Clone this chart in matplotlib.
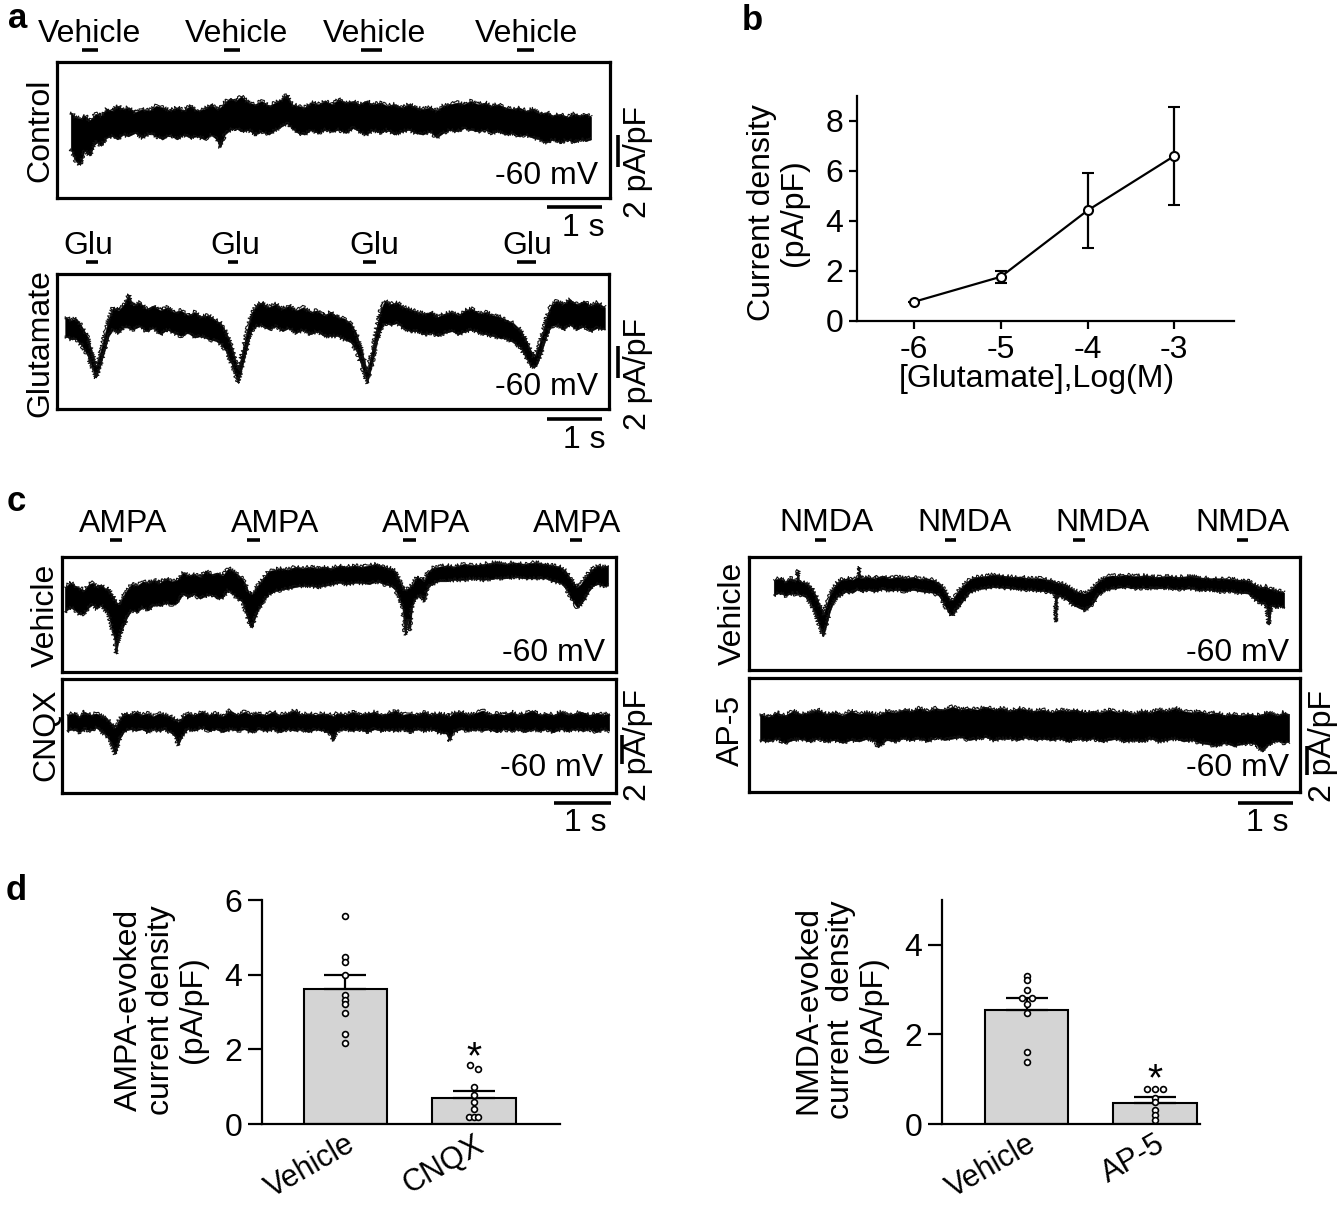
import matplotlib
matplotlib.use("Agg")
import matplotlib.pyplot as plt

plt.rcParams['font.family'] = ['Liberation Sans', 'DejaVu Sans']
plt.rcParams['axes.unicode_minus'] = False

# ======================= DATA =======================
# ---- panel a : control (vehicle puffs) trace envelope, t in s, current in pA/pF (relative)
ctrl_t = [0.25, 0.33, 0.42, 0.5, 0.6, 0.7, 0.8, 0.9, 1.0, 1.1, 1.2, 1.3, 1.42, 1.55, 1.68, 1.8, 1.92,
          2.05, 2.18, 2.3, 2.42, 2.55, 2.68, 2.8, 2.9, 2.97, 3.05, 3.15, 3.25, 3.35, 3.48, 3.6, 3.72,
          3.85, 3.97, 4.08, 4.18, 4.27, 4.38, 4.5, 4.62, 4.75, 4.88, 5.0, 5.12, 5.25, 5.38, 5.5, 5.62,
          5.75, 5.88, 6.0, 6.13, 6.27, 6.4, 6.52, 6.65, 6.78, 6.9, 7.02, 7.15, 7.28, 7.4, 7.52, 7.65,
          7.78, 7.9, 8.02, 8.15, 8.28, 8.4, 8.52, 8.65, 8.78, 8.9, 9.02, 9.15, 9.28, 9.4, 9.52, 9.62, 9.71]
ctrl_hi = [0.8, 0.5, 0.4, 0.6, 0.3, 0.7, 0.6, 1.0, 0.9, 1.2, 1.0, 1.1, 0.8, 1.0, 0.9, 1.2, 1.1,
           0.9, 1.1, 0.9, 1.2, 0.9, 1.0, 1.3, 1.0, 1.1, 1.4, 1.7, 1.5, 1.8, 1.4, 1.3, 1.5,
           1.2, 1.4, 1.6, 1.9, 1.3, 1.2, 1.1, 1.4, 1.3, 1.5, 1.3, 1.6, 1.4, 1.5, 1.3, 1.5,
           1.3, 1.4, 1.2, 1.3, 1.1, 1.3, 1.1, 1.0, 1.1, 0.9, 1.2, 1.3, 1.4, 1.3, 1.5, 1.3,
           1.4, 1.2, 1.3, 1.1, 1.0, 1.1, 0.9, 1.0, 0.7, 0.8, 0.6, 0.7, 0.5, 0.7, 0.6, 0.7, 0.5]
ctrl_lo = [-1.5, -2.2, -2.5, -1.6, -1.9, -1.0, -1.3, -0.8, -0.7, -0.9, -0.6, -0.7, -0.5, -0.8, -0.5, -0.7, -0.9,
           -0.6, -0.9, -0.6, -0.8, -0.7, -0.9, -0.6, -0.9, -1.4, -0.6, -0.3, -0.2, -0.4, -0.3, -0.6, -0.4,
           -0.6, -0.3, -0.1, 0.1, -0.2, -0.5, -0.6, -0.3, -0.5, -0.3, -0.4, -0.3, -0.5, -0.2, -0.4, -0.6,
           -0.3, -0.5, -0.3, -0.6, -0.4, -0.3, -0.5, -0.6, -0.4, -0.8, -0.5, -0.3, -0.4, -0.2, -0.3, -0.4,
           -0.3, -0.5, -0.4, -0.6, -0.5, -0.7, -0.6, -0.8, -0.9, -1.1, -0.9, -1.1, -0.9, -1.1, -0.9, -1.0, -0.9]
ctrl_on = [0.45, 3.04, 5.53, 8.36]
ctrl_off = [0.75, 3.33, 5.90, 8.67]

# ---- panel a : glutamate puffs trace envelope
glu_t = [0.15, 0.25, 0.35, 0.45, 0.55, 0.63, 0.71, 0.78, 0.86, 0.94, 1.02, 1.12, 1.22, 1.3, 1.38, 1.5,
         1.62, 1.75, 1.88, 2.0, 2.12, 2.25, 2.38, 2.5, 2.62, 2.75, 2.88, 2.98, 3.08, 3.18, 3.29, 3.37,
         3.45, 3.53, 3.62, 3.72, 3.85, 3.98, 4.1, 4.22, 4.35, 4.48, 4.6, 4.72, 4.85, 4.98, 5.1, 5.22,
         5.34, 5.44, 5.54, 5.64, 5.72, 5.8, 5.88, 5.96, 6.06, 6.18, 6.3, 6.42, 6.55, 6.68, 6.8, 6.92,
         7.05, 7.18, 7.3, 7.42, 7.55, 7.68, 7.8, 7.92, 8.05, 8.18, 8.3, 8.42, 8.52, 8.6, 8.67, 8.74,
         8.82, 8.9, 8.98, 9.08, 9.2, 9.32, 9.45, 9.58, 9.7, 9.82, 9.96]
glu_hi = [0.2, 0.0, 0.1, -0.4, -1.0, -1.9, -2.9, -2.1, -1.0, 0.1, 0.8, 0.6, 1.0, 1.6, 0.9, 1.1,
          0.7, 0.9, 0.6, 0.8, 0.5, 0.6, 0.3, 0.5, 0.2, 0.3, 0.0, -0.2, -0.8, -1.7, -3.1, -2.0,
          -0.7, 0.4, 0.9, 1.1, 0.8, 1.0, 0.7, 0.9, 0.6, 0.8, 0.5, 0.6, 0.3, 0.5, 0.2, 0.1,
          -0.2, -0.8, -1.9, -3.2, -2.0, -0.6, 0.6, 1.2, 1.0, 1.1, 0.8, 0.7, 0.5, 0.4, 0.5, 0.2,
          0.4, 0.5, 0.3, 0.6, 0.7, 0.4, 0.5, 0.3, 0.2, 0.0, -0.2, -0.6, -1.2, -1.8, -2.3, -1.8,
          -0.9, 0.2, 0.9, 1.2, 1.0, 1.3, 1.0, 1.2, 0.9, 1.1, 0.8]
glu_lo = [-1.0, -1.2, -1.2, -1.6, -2.2, -2.9, -3.6, -2.9, -2.0, -1.0, -0.6, -0.8, -0.4, -0.5, -0.6, -0.4,
          -0.7, -0.5, -0.9, -0.6, -0.8, -1.0, -0.8, -1.1, -1.0, -1.2, -1.3, -1.5, -2.0, -2.8, -3.95, -2.9,
          -1.8, -0.7, -0.4, -0.3, -0.6, -0.4, -0.7, -0.5, -0.8, -0.6, -0.9, -0.7, -1.0, -1.0, -1.0, -1.2,
          -1.4, -1.9, -2.9, -3.95, -2.9, -1.6, -0.6, -0.2, -0.3, -0.2, -0.5, -0.7, -0.7, -0.9, -0.8, -1.0,
          -0.8, -0.7, -0.9, -0.7, -0.6, -0.8, -0.9, -1.0, -1.1, -1.2, -1.4, -1.7, -2.3, -2.8, -3.0, -2.7,
          -1.9, -1.0, -0.4, -0.3, -0.6, -0.3, -0.6, -0.4, -0.7, -0.5, -0.6]
glu_on = [0.53, 3.11, 5.56, 8.36]
glu_off = [0.75, 3.29, 5.80, 8.71]

# ---- panel b : concentration-response
glu_log = [-6, -5, -4, -3]
glu_dens = [0.77, 1.77, 4.42, 6.60]
glu_sem = [0.0, 0.24, 1.50, 1.96]

# ---- panel c : AMPA puffs, vehicle
ampa_t = [0.05, 0.15, 0.23, 0.32, 0.39, 0.47, 0.54, 0.61, 0.68, 0.75, 0.81, 0.87, 0.92, 0.95, 0.99, 1.04,
          1.09, 1.14, 1.22, 1.32, 1.42, 1.51, 1.62, 1.72, 1.82, 1.92, 2.02, 2.12, 2.22, 2.32, 2.42, 2.52,
          2.62, 2.72, 2.82, 2.92, 3.0, 3.08, 3.16, 3.22, 3.28, 3.33, 3.38, 3.45, 3.53, 3.62, 3.72, 3.84,
          3.96, 4.09, 4.22, 4.35, 4.48, 4.61, 4.74, 4.87, 5.0, 5.13, 5.26, 5.39, 5.52, 5.65, 5.76, 5.85,
          5.92, 5.97, 6.02, 6.06, 6.1, 6.15, 6.22, 6.29, 6.35, 6.41, 6.48, 6.6, 6.74, 6.88, 7.05, 7.22,
          7.4, 7.58, 7.76, 7.94, 8.12, 8.3, 8.48, 8.62, 8.74, 8.84, 8.92, 8.98, 9.04, 9.1, 9.17, 9.24,
          9.32, 9.4, 9.48, 9.58]
ampa_hi = [0.2, 0.5, 0.3, 0.1, 0.0, 0.4, 0.5, 0.2, 0.4, 0.1, 0.1, -0.3, -0.6, -0.8, -1.0, -0.7,
           -0.3, 0.0, 0.4, 0.3, 0.6, 0.5, 0.7, 0.5, 0.8, 0.6, 0.7, 1.2, 1.0, 1.1, 0.9, 1.3,
           1.1, 1.2, 1.0, 1.5, 1.3, 1.1, 0.8, 0.4, -0.2, -0.3, 0.0, 0.4, 0.8, 1.3, 1.4, 1.5,
           1.4, 1.6, 1.5, 1.6, 1.5, 1.6, 1.5, 1.7, 1.6, 1.7, 1.6, 1.7, 1.8, 1.6, 1.5, 1.3,
           0.7, 0.2, 0.0, 0.1, 0.2, 0.4, 0.9, 0.8, 0.6, 1.2, 1.5, 1.6, 1.7, 1.6, 1.8, 1.7,
           1.8, 1.9, 1.8, 1.9, 1.8, 1.9, 1.8, 1.7, 1.6, 1.3, 0.8, 0.5, 0.2, 0.4, 0.8, 1.2,
           1.5, 1.7, 1.6, 1.7]
ampa_lo = [-1.5, -1.2, -1.4, -1.7, -1.6, -1.2, -1.0, -1.3, -1.0, -1.4, -1.6, -2.6, -3.4, -4.4, -3.5, -2.8,
           -2.4, -1.9, -1.4, -1.5, -1.2, -1.4, -1.0, -1.1, -0.9, -1.0, -0.9, -0.3, -0.5, -0.3, -0.6, -0.4,
           -0.3, -0.6, -0.5, 0.0, -0.3, -0.6, -0.8, -1.5, -2.3, -2.6, -2.0, -1.3, -0.8, -0.3, -0.1, 0.0,
           0.1, 0.2, 0.3, 0.3, 0.2, 0.3, 0.4, 0.5, 0.4, 0.5, 0.5, 0.4, 0.6, 0.4, 0.3, 0.0,
           -0.6, -1.2, -3.1, -2.0, -2.8, -0.9, -0.5, -0.4, -0.8, 0.1, 0.4, 0.6, 0.6, 0.7, 0.7, 0.8,
           0.7, 0.8, 0.8, 0.9, 0.8, 0.8, 0.8, 0.6, 0.5, 0.1, -0.5, -0.9, -1.2, -1.0, -0.6, -0.1,
           0.3, 0.4, 0.3, 0.3]
ampa_on = [0.84, 3.25, 5.98, 8.91]
ampa_off = [1.05, 3.47, 6.21, 9.12]

# ---- panel c : AMPA puffs with CNQX
cnqx_t = [0.09, 0.2, 0.3, 0.4, 0.5, 0.6, 0.7, 0.78, 0.84, 0.89, 0.93, 0.97, 1.02, 1.1, 1.2, 1.3,
          1.4, 1.5, 1.6, 1.7, 1.8, 1.9, 1.98, 2.04, 2.1, 2.2, 2.32, 2.45, 2.58, 2.7, 2.82, 2.95,
          3.08, 3.2, 3.32, 3.45, 3.58, 3.7, 3.82, 3.95, 4.08, 4.2, 4.32, 4.45, 4.58, 4.7, 4.76, 4.82,
          4.98, 5.1, 5.22, 5.35, 5.48, 5.6, 5.72, 5.85, 5.98, 6.1, 6.22, 6.35, 6.48, 6.6, 6.74, 6.8,
          6.86, 7.0, 7.12, 7.25, 7.38, 7.5, 7.62, 7.75, 7.88, 8.0, 8.12, 8.25, 8.38, 8.5, 8.62, 8.75,
          8.88, 9.0, 9.12, 9.25, 9.38, 9.5, 9.6]
cnqx_hi = [0.5, 0.6, 0.4, 0.7, 0.5, 0.6, 0.4, 0.3, 0.0, -0.2, -0.4, -0.1, 0.3, 0.6, 0.5, 0.7,
           0.5, 0.6, 0.4, 0.6, 0.5, 0.4, 0.2, 0.0, 0.3, 0.6, 0.5, 0.7, 0.5, 0.6, 0.4, 0.8,
           0.5, 0.7, 0.5, 0.6, 0.5, 0.7, 0.5, 0.6, 0.8, 0.5, 0.6, 0.5, 0.6, 0.5, 0.4, 0.6,
           0.5, 0.7, 0.5, 0.6, 0.7, 0.5, 0.6, 0.8, 0.5, 0.6, 0.5, 0.7, 0.5, 0.6, 0.5, 0.4,
           0.6, 0.7, 0.5, 0.6, 0.8, 0.5, 0.6, 0.5, 0.7, 0.5, 0.6, 0.8, 0.5, 0.6, 0.5, 0.7,
           0.5, 0.6, 0.7, 0.5, 0.6, 0.5, 0.6]
cnqx_lo = [-0.6, -0.5, -0.7, -0.5, -0.6, -0.4, -0.7, -0.9, -1.3, -1.8, -2.2, -1.7, -1.1, -0.6, -0.5, -0.6,
           -0.5, -0.7, -0.5, -0.6, -0.5, -0.7, -1.0, -1.6, -1.0, -0.5, -0.6, -0.4, -0.6, -0.5, -0.7, -0.5,
           -0.6, -0.5, -0.7, -0.5, -0.6, -0.5, -0.7, -0.5, -0.6, -0.5, -0.7, -0.5, -0.6, -0.8, -1.3, -0.6,
           -0.5, -0.6, -0.5, -0.7, -0.5, -0.6, -0.5, -0.6, -0.5, -0.7, -0.5, -0.6, -0.5, -0.7, -0.8, -1.3,
           -0.7, -0.5, -0.6, -0.5, -0.6, -0.5, -0.7, -0.5, -0.6, -0.5, -0.7, -0.5, -0.6, -0.5, -0.7, -0.5,
           -0.6, -0.5, -0.6, -0.5, -0.7, -0.5, -0.6]

# ---- panel c : NMDA puffs, vehicle
nmda_t = [0.45, 0.56, 0.66, 0.76, 0.86, 0.89, 0.91, 1.03, 1.1, 1.16, 1.22, 1.28, 1.35, 1.41, 1.47, 1.53,
          1.6, 1.68, 1.78, 1.88, 1.98, 2.0, 2.02, 2.15, 2.28, 2.42, 2.55, 2.7, 2.84, 2.98, 3.11, 3.24,
          3.36, 3.45, 3.52, 3.58, 3.64, 3.7, 3.76, 3.84, 3.92, 4.02, 4.15, 4.29, 4.44, 4.6, 4.76, 4.93,
          5.1, 5.29, 5.45, 5.56, 5.58, 5.6, 5.7, 5.8, 5.9, 6.0, 6.1, 6.18, 6.26, 6.36, 6.48, 6.6,
          6.72, 6.84, 7.0, 7.2, 7.4, 7.6, 7.8, 8.02, 8.2, 8.38, 8.56, 8.75, 8.92, 9.07, 9.18, 9.29,
          9.4, 9.45, 9.5, 9.58, 9.66, 9.73]
nmda_hi = [0.5, 0.6, 0.4, 0.6, 0.45, 1.2, 0.4, 0.3, 0.1, -0.2, -0.6, -1.2, -1.9, -1.2, -0.5, -0.1,
           0.3, 0.5, 0.6, 0.5, 0.7, 1.4, 0.6, 0.7, 0.6, 0.8, 0.6, 0.7, 0.6, 0.7, 0.55, 0.6,
           0.45, 0.3, 0.0, -0.35, -0.8, -0.9, -0.5, -0.1, 0.2, 0.55, 0.7, 0.75, 0.85, 0.8, 0.7, 0.7,
           0.6, 0.6, 0.5, 0.4, 0.35, 0.3, 0.25, 0.05, -0.2, -0.35, -0.45, -0.3, 0.0, 0.4, 0.7, 0.8,
           0.75, 0.85, 0.75, 0.8, 0.7, 0.75, 0.7, 0.75, 0.65, 0.6, 0.6, 0.55, 0.5, 0.45, 0.2, 0.0,
           0.05, -0.1, -0.15, -0.2, -0.3, -0.4]
nmda_lo = [-0.55, -0.4, -0.6, -0.45, -0.5, -0.4, -0.5, -0.7, -1.0, -1.45, -2.0, -2.7, -3.4, -2.6, -1.7, -1.1,
           -0.7, -0.5, -0.3, -0.4, -0.15, -0.2, -0.3, -0.2, -0.3, -0.15, -0.25, -0.2, -0.3, -0.2, -0.3, -0.35,
           -0.4, -0.6, -1.0, -1.45, -1.85, -1.95, -1.6, -1.2, -0.8, -0.35, -0.15, -0.1, 0.0, -0.05, -0.1, -0.15,
           -0.2, -0.25, -0.35, -0.5, -2.4, -0.6, -0.7, -0.95, -1.25, -1.45, -1.6, -1.4, -1.1, -0.5, -0.2, -0.1,
           -0.05, 0.0, -0.1, -0.05, -0.1, -0.05, -0.15, -0.1, -0.2, -0.2, -0.3, -0.3, -0.4, -0.45, -0.8, -1.1,
           -1.2, -2.6, -1.3, -1.4, -1.3, -1.45]
nmda_on = [1.20, 3.56, 5.89, 8.87]
nmda_off = [1.40, 3.76, 6.11, 9.07]

# ---- panel c : NMDA puffs with AP-5
ap5_t = [0.2, 0.35, 0.5, 0.65, 0.8, 0.95, 1.1, 1.25, 1.4, 1.55, 1.7, 1.85, 2.0, 2.15, 2.3, 2.34,
         2.5, 2.65, 2.8, 2.95, 3.1, 3.25, 3.4, 3.55, 3.7, 3.85, 4.0, 4.15, 4.3, 4.45, 4.6, 4.75,
         4.9, 5.05, 5.2, 5.35, 5.5, 5.65, 5.8, 5.95, 6.1, 6.25, 6.4, 6.55, 6.7, 6.85, 7.0, 7.15,
         7.3, 7.45, 7.6, 7.75, 7.9, 8.05, 8.2, 8.35, 8.5, 8.65, 8.8, 8.95, 9.1, 9.22, 9.33, 9.45,
         9.6, 9.72, 9.82]
ap5_hi = [0.9, 0.7, 1.0, 0.8, 1.1, 0.9, 1.0, 1.2, 0.9, 1.0, 0.8, 1.1, 0.9, 1.0, 0.9, 0.8,
          1.1, 1.0, 1.2, 1.1, 1.3, 1.1, 1.3, 1.2, 1.4, 1.2, 1.3, 1.2, 1.4, 1.2, 1.3, 1.1,
          1.3, 1.2, 1.1, 1.2, 1.0, 1.2, 1.1, 1.2, 1.0, 1.1, 1.0, 1.2, 1.0, 1.1, 0.9, 1.1,
          1.0, 1.2, 1.1, 1.3, 1.1, 1.0, 1.1, 0.9, 1.0, 0.8, 0.9, 0.8, 0.9, 0.8, 0.9, 1.0,
          0.8, 1.0, 0.9]
ap5_lo = [-0.9, -1.0, -0.8, -1.1, -0.9, -0.8, -1.0, -0.8, -1.0, -0.9, -1.1, -0.9, -1.0, -0.8, -1.0, -1.4,
          -0.9, -1.0, -0.8, -0.9, -0.8, -1.0, -0.7, -0.9, -0.8, -0.7, -0.9, -0.8, -0.7, -0.9, -0.8, -0.8,
          -0.9, -0.7, -0.9, -0.8, -0.9, -0.8, -1.0, -0.8, -0.9, -0.8, -1.0, -0.9, -0.8, -1.0, -0.9, -1.0,
          -0.8, -1.0, -0.9, -0.8, -1.0, -0.9, -1.1, -1.2, -1.3, -1.1, -1.3, -1.2, -1.1, -1.2, -1.7, -1.2,
          -0.9, -1.1, -1.0]

# ---- panel d : bar charts
ampa_groups = ["Vehicle", "CNQX"]
ampa_mean = [3.62, 0.69]
ampa_sem = [0.37, 0.19]
ampa_veh_pts = [5.57, 4.48, 4.35, 3.98, 3.45, 3.33, 3.21, 2.98, 2.40, 2.18]
ampa_cnqx_pts = [1.58, 1.47, 0.98, 0.77, 0.58, 0.39, 0.20, 0.20, 0.20]

nmda_groups = ["Vehicle", "AP-5"]
nmda_mean = [2.55, 0.47]
nmda_sem = [0.27, 0.13]
nmda_veh_pts = [3.30, 3.21, 2.99, 2.81, 2.81, 2.68, 2.48, 1.60, 1.39]
nmda_ap5_pts = [0.79, 0.79, 0.79, 0.58, 0.48, 0.32, 0.21, 0.10]

# point offsets (style: horizontal spreading of overlapping dots)
ampa_veh_dx = [0] * 10
ampa_cnqx_dx = [-0.03, 0.03, 0, 0, 0, 0, -0.035, 0, 0.035]
nmda_veh_dx = [0, 0, 0, -0.04, 0.04, 0, 0, 0, 0]
nmda_ap5_dx = [-0.062, 0, 0.062, 0, 0, 0, 0, 0]

SCALE_S = 1.0   # s
SCALE_I = 2.0   # pA/pF

# ======================= FIGURE =======================
W, H = 1344, 1205
fig = plt.figure(figsize=(W / 100, H / 100), dpi=100)
FS = 23
NOISE = (2.0, 1.2, 4)   # line sketch style for the recording edges


def ftext(x, y, s, size=FS, **kw):
    kw.setdefault('ha', 'center')
    kw.setdefault('va', 'center')
    fig.text(x / W, 1 - y / H, s, fontsize=size, **kw)


def make_trace(box, s_px, u_px, base_px, t, hi, lo):
    l, tp, r, b = box
    ax = fig.add_axes([l / W, 1 - b / H, (r - l) / W, (b - tp) / H])
    ax.set_xlim(0, (r - l) / s_px)
    ax.set_ylim((base_px - b) / u_px, (base_px - tp) / u_px)
    ax.fill_between(t, lo, hi, facecolor='black', edgecolor='black', lw=0.4)
    for edge in (hi, lo):
        ln, = ax.plot(t, edge, color='#111111', lw=0.8)
        ln.set_sketch_params(*NOISE)
    ax.set_xticks([])
    ax.set_yticks([])
    for sp in ax.spines.values():
        sp.set_linewidth(2.3)
    to_t = lambda x: (x - l) / s_px
    to_v = lambda y: (base_px - y) / u_px
    return ax, to_t, to_v


def stim_bars(ax, on, off, y_px, box):
    l, tp, r, b = box
    yf = 1 + (tp - y_px) / (b - tp)
    for a, e in zip(on, off):
        ax.plot([a, e], [yf, yf], transform=ax.get_xaxis_transform(), color='k',
                lw=2.6, solid_capstyle='butt', clip_on=False)


def scale_bars(ax, to_t, to_v, hx, hy, vx, vy):
    t0 = to_t(hx)
    yv = to_v(hy)
    ax.plot([t0, t0 + SCALE_S], [yv, yv], color='k', lw=2.6, solid_capstyle='butt', clip_on=False)
    xv = to_t(vx)
    v0 = to_v(vy)
    ax.plot([xv, xv], [v0, v0 + SCALE_I], color='k', lw=2.6, solid_capstyle='butt', clip_on=False)


# ---------- panel a ----------
box = (57, 62, 610, 198)
ax, tt, tv = make_trace(box, 55, 16, 125, ctrl_t, ctrl_hi, ctrl_lo)
stim_bars(ax, ctrl_on, ctrl_off, 50, box)
scale_bars(ax, tt, tv, 547, 207, 618, 167)
for x in [89, 236, 374, 526]:
    ftext(x, 34, "Vehicle")
ftext(598, 176, "-60 mV", ha='right')
ftext(40, 130, "Control", rotation=90)
ftext(583, 228, "1 s")
ftext(638, 162, "2 pA/pF", rotation=90)

box = (57, 274, 609, 409)
ax, tt, tv = make_trace(box, 55, 16, 320, glu_t, glu_hi, glu_lo)
stim_bars(ax, glu_on, glu_off, 262, box)
scale_bars(ax, tt, tv, 547, 419, 618, 378)
for x in [88, 235, 374, 527]:
    ftext(x, 246, "Glu")
ftext(598, 387, "-60 mV", ha='right')
ftext(40, 343, "Glutamate", rotation=90)
ftext(584, 440, "1 s")
ftext(638, 374, "2 pA/pF", rotation=90)

ftext(18, 18, "a", size=25, weight='bold')

# ---------- panel b ----------
axb = fig.add_axes([857 / W, 1 - 321 / H, (1234 - 857) / W, (321 - 96) / H])
axb.errorbar(glu_log, glu_dens, yerr=glu_sem, fmt='-o', color='k', lw=1.6, ms=6.5,
             mfc='white', mec='k', mew=1.5, capsize=4, capthick=1.6, elinewidth=1.6)
axb.set_xlim(-6.66, -2.31)
axb.set_ylim(0, 9)
axb.set_xticks(glu_log)
axb.set_yticks([0, 2, 4, 6, 8])
for s in ['top', 'right']:
    axb.spines[s].set_visible(False)
for s in ['left', 'bottom']:
    axb.spines[s].set_linewidth(1.6)
axb.tick_params(labelsize=FS, width=1.6, length=6, pad=4)
ftext(778, 213, "Current density\n(pA/pF)", rotation=90, linespacing=1.1)
ftext(1037, 379, "[Glutamate],Log(M)")
ftext(752, 20, "b", size=25, weight='bold')

# ---------- panel c (AMPA) ----------
box = (62, 557, 616, 672)
ax, tt, tv = make_trace(box, 57, 14.5, 590, ampa_t, ampa_hi, ampa_lo)
stim_bars(ax, ampa_on, ampa_off, 540, box)
for x in [123, 275, 426, 577]:
    ftext(x, 524, "AMPA")
ftext(605, 653, "-60 mV", ha='right')
ftext(46, 615, "Vehicle", rotation=90)

box = (62, 679, 616, 793)
ax, tt, tv = make_trace(box, 57, 14.5, 722, cnqx_t, cnqx_hi, cnqx_lo)
scale_bars(ax, tt, tv, 554, 803, 622, 764)
ftext(603, 768, "-60 mV", ha='right')
ftext(46, 735, "CNQX", rotation=90)
ftext(585, 823, "1 s")
ftext(638, 745, "2 pA/pF", rotation=90)

ftext(16, 501, "c", size=25, weight='bold')

# ---------- panel c (NMDA) ----------
box = (749, 557, 1300, 670)
ax, tt, tv = make_trace(box, 55, 14.5, 587, nmda_t, nmda_hi, nmda_lo)
stim_bars(ax, nmda_on, nmda_off, 540, box)
for x in [827, 965, 1103, 1242]:
    ftext(x, 523, "NMDA")
ftext(1289, 653, "-60 mV", ha='right')
ftext(733, 613, "Vehicle", rotation=90)

box = (749, 678, 1300, 792)
ax, tt, tv = make_trace(box, 55, 14.5, 727, ap5_t, ap5_hi, ap5_lo)
scale_bars(ax, tt, tv, 1238, 803, 1307, 775)
ftext(1289, 768, "-60 mV", ha='right')
ftext(731, 730, "AP-5", rotation=90)
ftext(1267, 823, "1 s")
ftext(1323, 746, "2 pA/pF", rotation=90)


# ---------- panel d ----------
def bar_panel(rect, xlim, ylim, yticks, groups, means, sems, pts_list, dx_list, ylabel, lab_xy, star_off):
    l, tp, r, b = rect
    ax = fig.add_axes([l / W, 1 - b / H, (r - l) / W, (b - tp) / H])
    xs = list(range(len(groups)))
    ax.bar(xs, means, width=0.65, color='#d4d4d4', edgecolor='black', linewidth=1.5, zorder=1)
    for x, m, e in zip(xs, means, sems):
        ax.errorbar([x], [m], yerr=[[0], [e]], fmt='none', ecolor='k', elinewidth=1.6,
                    capsize=15, capthick=1.6, zorder=2)
    for x, pts, dxs in zip(xs, pts_list, dx_list):
        ax.plot([x + d for d in dxs], pts, 'o', ms=4.2, mfc='white', mec='black', mew=1.2,
                zorder=3, clip_on=False)
    ax.annotate('*', xy=(1, max(pts_list[1])), xytext=(0, star_off), textcoords='offset points',
                ha='center', va='bottom', fontsize=28)
    ax.set_xlim(*xlim)
    ax.set_ylim(*ylim)
    ax.set_yticks(yticks)
    ax.set_xticks(xs)
    ax.set_xticklabels(groups, rotation=30, ha='right', rotation_mode='anchor')
    for s in ['top', 'right']:
        ax.spines[s].set_visible(False)
    for s in ['left', 'bottom']:
        ax.spines[s].set_linewidth(1.6)
    ax.tick_params(axis='y', labelsize=FS, width=1.6, length=10, pad=4)
    ax.tick_params(axis='x', labelsize=22, length=0, pad=4)
    ftext(lab_xy[0], lab_xy[1], ylabel, rotation=90, linespacing=1.1)
    return ax


bar_panel((262, 900, 560, 1124), (-0.65, 1.67), (0, 6), [0, 2, 4, 6], ampa_groups, ampa_mean,
          ampa_sem, [ampa_veh_pts, ampa_cnqx_pts], [ampa_veh_dx, ampa_cnqx_dx],
          "AMPA-evoked\ncurrent density\n(pA/pF)", (161, 1010), -8)
bar_panel((942, 900, 1200, 1124), (-0.66, 1.35), (0, 5), [0, 2, 4], nmda_groups, nmda_mean,
          nmda_sem, [nmda_veh_pts, nmda_ap5_pts], [nmda_veh_dx, nmda_ap5_dx],
          "NMDA-evoked\ncurrent  density\n(pA/pF)", (841, 1010), -7)
ftext(16, 890, "d", size=25, weight='bold')

fig.savefig("out.png", dpi=100)
